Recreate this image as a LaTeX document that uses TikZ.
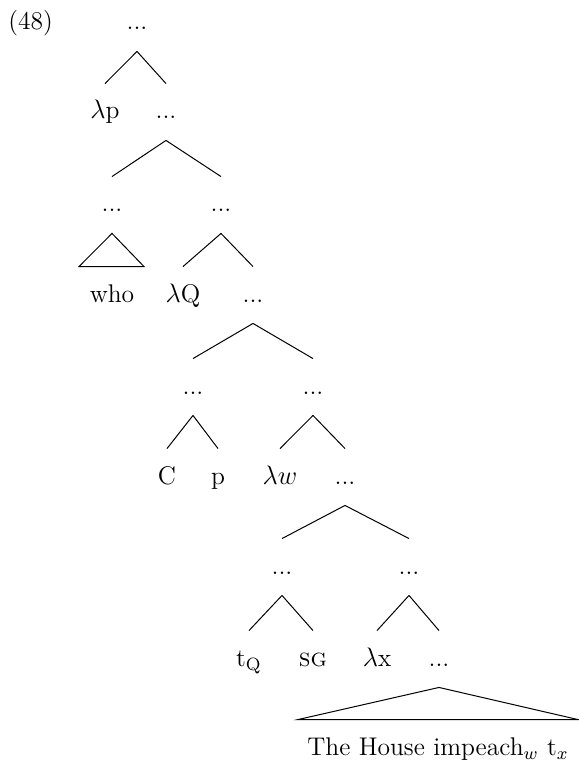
\documentclass[tikz,border=0pt]{standalone}
\usepackage{tikz}
\usetikzlibrary{calc}

\begin{document}
\begin{tikzpicture}[x=0.45pt, y=-0.45pt,
    lbl/.style={anchor=base, inner sep=0pt, text height=15.75pt, text depth=9.45pt, font=\fontsize{11.5}{13.8}\selectfont},
    br/.style={line width=0.45pt}]
    \useasboundingbox (0,0) rectangle (579,765);
    \node[lbl, anchor=base west] (ex) at (8,30) {(48)};
    \node[lbl] (r0) at (137,30) {...};
    \node[lbl] (lp) at (105,119) {$\lambda$p};
    \node[lbl] (r1) at (166,119) {...};
    \node[lbl] (l2) at (112,212) {...};
    \node[lbl] (r2) at (221,212) {...};
    \node[lbl] (who) at (112,302) {who};
    \node[lbl] (lQ) at (183,302) {$\lambda$Q};
    \node[lbl] (r3) at (253,302) {...};
    \node[lbl] (l4) at (193,394) {...};
    \node[lbl] (r4) at (313,394) {...};
    \node[lbl] (C) at (167,484) {C};
    \node[lbl] (p) at (218,484) {p};
    \node[lbl] (lw) at (280,484) {$\lambda w$};
    \node[lbl] (r5) at (345,484) {...};
    \node[lbl] (l6) at (282,574) {...};
    \node[lbl] (r6) at (409,574) {...};
    \node[lbl] (tQ) at (249,666) {t$_{\mathrm{Q}}$};
    \node[lbl] (sg) at (313,666) {\textsc{sg}};
    \node[lbl] (lx) at (377,666) {$\lambda$x};
    \node[lbl] (r7) at (439,666) {...};
    \node[lbl] (txt) at (438,755) {The House impeach$_w$ t$_x$};
    \foreach \m/\d in {r0/lp, r0/r1, r1/l2, r1/r2, r2/lQ, r2/r3, r3/l4, r3/r4,
        l4/C, l4/p, r4/lw, r4/r5, r5/l6, r5/r6, l6/tQ, l6/sg, r6/lx, r6/r7}
        \draw[br] (\m.south) -- (\d.north);
    \draw[br] (l2.south) -- ($(who.north)+(-33,0)$) -- ($(who.north)+(32,0)$) -- cycle;
    \draw[br] (r7.south) -- ($(txt.north)+(-140,0)$) -- ($(txt.north)+(140,0)$) -- cycle;
\end{tikzpicture}
\end{document}
